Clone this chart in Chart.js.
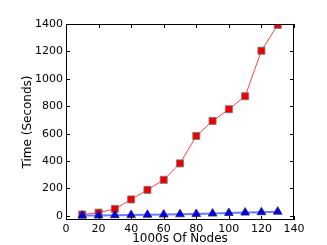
<!DOCTYPE html>
<html lang="en">
<head>
<meta charset="UTF-8" />
<title>Time vs Nodes</title>
<script src="https://cdn.jsdelivr.net/npm/chart.js"></script>
<style>
    html, body { margin: 0; padding: 0; background: #fff; }
</style>
</head>
<body>
<canvas id="chart" width="327" height="245"></canvas>
<script>
    // data
    const nodes = [10, 20, 30, 40, 50, 60, 70, 80, 90, 100, 110, 120, 130];
    const redTimes = [10, 24, 51, 120, 190, 263, 383, 583, 693, 778, 873, 1205, 1393];
    const blueTimes = [2, 3, 5, 6, 8, 10, 12, 14, 17, 21, 24, 27, 31];
    const xTicks = [0, 20, 40, 60, 80, 100, 120, 140];
    const yTicks = [0, 200, 400, 600, 800, 1000, 1200, 1400];

    const toPts = ys => nodes.map((x, i) => ({ x: x, y: ys[i] }));
    const font = { family: 'DejaVu Sans', size: 11 };

    // frame plus inward ticks on all four sides, matplotlib style
    const frame = {
        id: 'frame',
        afterDatasetsDraw(chart) {
            const { ctx, chartArea: a, scales } = chart;
            ctx.save();
            ctx.strokeStyle = '#000';
            ctx.lineWidth = 1;
            ctx.strokeRect(a.left + 0.5, a.top + 0.5, a.right - a.left - 1, a.bottom - a.top - 1);
            ctx.beginPath();
            xTicks.forEach(v => {
                const px = Math.round(scales.x.getPixelForValue(v)) + 0.5;
                ctx.moveTo(px, a.bottom); ctx.lineTo(px, a.bottom - 4);
                ctx.moveTo(px, a.top); ctx.lineTo(px, a.top + 4);
            });
            yTicks.forEach(v => {
                const py = Math.round(scales.y.getPixelForValue(v)) + 0.5;
                ctx.moveTo(a.left, py); ctx.lineTo(a.left + 4, py);
                ctx.moveTo(a.right, py); ctx.lineTo(a.right - 4, py);
            });
            ctx.stroke();
            ctx.restore();
        }
    };

    new Chart(document.getElementById('chart'), {
        type: 'line',
        data: {
            datasets: [{
                data: toPts(blueTimes),
                borderColor: '#6a78ff',
                borderWidth: 2,
                pointStyle: 'triangle',
                pointRadius: 5,
                pointBackgroundColor: '#0000ee',
                pointBorderColor: '#22226a',
                pointBorderWidth: 0.8
            }, {
                data: toPts(redTimes),
                borderColor: '#ff4444',
                borderWidth: 1,
                pointStyle: 'rect',
                pointRadius: 5,
                pointBackgroundColor: '#ee0000',
                pointBorderColor: '#777',
                pointBorderWidth: 0.8
            }]
        },
        options: {
            responsive: false,
            animation: false,
            layout: { padding: { top: 24, right: 33, left: 0, bottom: 0 } },
            plugins: { legend: { display: false }, tooltip: { enabled: false } },
            scales: {
                x: {
                    type: 'linear',
                    min: 0, max: 140,
                    afterBuildTicks: s => { s.ticks = xTicks.map(v => ({ value: v })); },
                    afterFit: s => { s.height = 25; },
                    grid: { display: false, drawTicks: false },
                    border: { display: false },
                    ticks: { color: '#000', font: font, padding: 3, maxRotation: 0, callback: v => String(v) },
                    title: {
                        display: true, text: '1000s Of Nodes', color: '#000',
                        font: { family: 'DejaVu Sans', size: 12, lineHeight: 1 },
                        padding: 0
                    }
                },
                y: {
                    min: -30, max: 1400,
                    afterBuildTicks: s => { s.ticks = yTicks.map(v => ({ value: v })); },
                    afterFit: s => { s.width = 66; },
                    grid: { display: false, drawTicks: false },
                    border: { display: false },
                    ticks: { color: '#000', font: font, padding: 3, callback: v => String(v) },
                    title: {
                        display: true, text: 'Time (Seconds)', color: '#000',
                        font: { family: 'DejaVu Sans', size: 12, lineHeight: 1 },
                        padding: { top: 22, bottom: 0 }
                    }
                }
            }
        },
        plugins: [frame]
    });
</script>
</body>
</html>
